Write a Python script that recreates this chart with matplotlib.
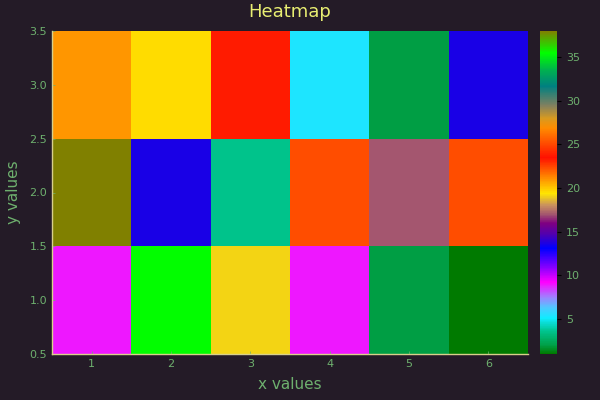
import numpy as np
import matplotlib
matplotlib.use("Agg")
import matplotlib.pyplot as plt
from matplotlib.colors import LinearSegmentedColormap

x_vals = [1, 2, 3, 4, 5, 6]
y_vals = [1, 2, 3]
z_row1 = [8.9, 35.5, 19.1, 8.9, 2.0, 1.0]
z_row2 = [38.0, 13.6, 3.6, 25.2, 17.0, 25.2]
z_row3 = [21.0, 19.6, 23.8, 5.4, 2.0, 13.6]
vmin_val, vmax_val = 1.0, 38.0

# colormap stops (value, colour)
cmap_vals = [1.0, 2.0, 3.6, 5.1, 6.3, 7.5, 9.2, 11.0, 13.1, 14.7, 16.0, 16.9,
             18.0, 19.4, 20.8, 23.5, 26.9, 28.0, 29.5, 31.7, 33.5, 35.5, 38.0]
cmap_cols = ["#007a00", "#00a048", "#00c48e", "#10ecff", "#50c8ff", "#a080ff",
             "#ff00ff", "#8000ff", "#0000ff", "#5000b0", "#800080", "#a05070",
             "#c89060", "#ffe600", "#ffa000", "#ff1000", "#ff8c00", "#d89a20",
             "#808060", "#008080", "#00b050", "#00ff00", "#808000"]

bg = "#241b27"
tick_col = "#6eb06e"
title_col = "#e8ee72"
spine_col = "#d8d08a"

stops = [(v - vmin_val) / (vmax_val - vmin_val) for v in cmap_vals]
cmap = LinearSegmentedColormap.from_list("custom", list(zip(stops, cmap_cols)), N=512)

Z = np.array([z_row1, z_row2, z_row3])

fig = plt.figure(figsize=(6, 4), dpi=100, facecolor=bg)
ax = fig.add_axes([52/600, 1 - 354/400, (528-52)/600, (354-31)/400])
ax.set_facecolor(bg)
xe = np.arange(len(x_vals) + 1) + 0.5
ye = np.arange(len(y_vals) + 1) + 0.5
mesh = ax.pcolormesh(xe, ye, Z, cmap=cmap, vmin=vmin_val, vmax=vmax_val)
ax.set_xlim(0.5, 6.5)
ax.set_ylim(0.5, 3.5)
ax.set_xticks(x_vals)
ax.set_yticks([0.5, 1.0, 1.5, 2.0, 2.5, 3.0, 3.5])
ax.set_yticklabels(["0.5", "1.0", "1.5", "2.0", "2.5", "3.0", "3.5"])
for s in ["top", "right"]:
    ax.spines[s].set_visible(False)
for s in ["left", "bottom"]:
    ax.spines[s].set_color(spine_col)
    ax.spines[s].set_linewidth(1.0)
ax.tick_params(colors=tick_col, labelsize=8, length=2, direction="in", width=0.5)
for lab in ax.get_xticklabels() + ax.get_yticklabels():
    lab.set_color(tick_col)
ax.set_xlabel("x values", color=tick_col, fontsize=11, labelpad=6)
ax.set_ylabel("y values", color=tick_col, fontsize=11, labelpad=6)
fig.text(290/600, 1 - 12/400, "Heatmap", color=title_col, fontsize=13,
         ha="center", va="center")

cax = fig.add_axes([540/600, 1 - 354/400, 17/600, (354-31)/400])
cb = fig.colorbar(mesh, cax=cax)
cb.set_ticks([5, 10, 15, 20, 25, 30, 35])
cb.outline.set_visible(False)
cax.tick_params(colors="black", labelcolor=tick_col, labelsize=8, length=3, width=0.8)

fig.savefig("out.png", dpi=100, facecolor=bg)
